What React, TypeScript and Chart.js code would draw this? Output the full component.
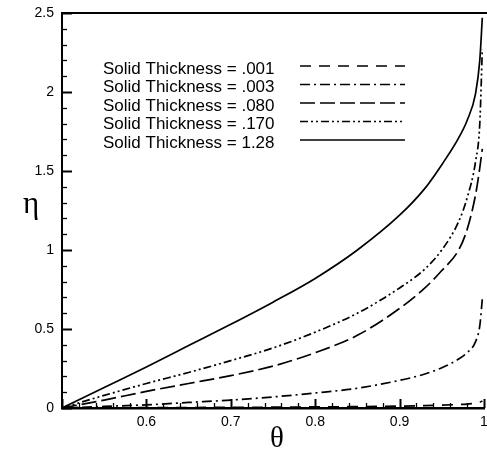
import React, { useEffect, useRef } from "react";
import { Chart, registerables } from "chart.js";

Chart.register(...registerables);

// θ sample positions shared by all curves
const theta = [0.5, 0.55, 0.6, 0.65, 0.7, 0.75, 0.8, 0.85, 0.9, 0.93, 0.95, 0.97, 0.98, 0.99, 0.995, 0.998];

// η for each solid thickness
const eta001 = [0, 0.001, 0.002, 0.003, 0.004, 0.005, 0.007, 0.009, 0.012, 0.015, 0.018, 0.022, 0.025, 0.03, 0.036, 0.045];
const eta003 = [0, 0.01, 0.02, 0.035, 0.05, 0.07, 0.095, 0.125, 0.175, 0.215, 0.255, 0.31, 0.35, 0.42, 0.52, 0.69];
const eta080 = [0, 0.05, 0.105, 0.155, 0.205, 0.265, 0.35, 0.46, 0.63, 0.76, 0.87, 1.0, 1.13, 1.35, 1.52, 1.64];
const eta170 = [0, 0.08, 0.155, 0.225, 0.3, 0.38, 0.48, 0.6, 0.76, 0.88, 1.0, 1.18, 1.33, 1.56, 1.8, 2.27];
const eta128 = [0, 0.13, 0.26, 0.395, 0.53, 0.67, 0.82, 1.0, 1.22, 1.39, 1.54, 1.71, 1.82, 1.99, 2.2, 2.47];

const seriesLabels = [
  "Solid Thickness = .001",
  "Solid Thickness = .003",
  "Solid Thickness = .080",
  "Solid Thickness = .170",
  "Solid Thickness = 1.28",
];
const seriesValues = [eta001, eta003, eta080, eta170, eta128];

const xTitle = "θ";
const yTitle = "η";

const dashStyles = [[11, 8], [10, 4, 2, 4], [15, 5], [8, 3, 2, 3, 2, 3], []];

const isMajor = (v: number, step: number) => Math.abs(v / step - Math.round(v / step)) < 1e-6;

const decorPlugin = {
  id: "decor",
  afterDraw(chart: any) {
    const ctx = chart.ctx;
    const area = chart.chartArea;
    const xs = chart.scales.x;
    const ys = chart.scales.y;
    ctx.save();
    ctx.strokeStyle = "#000";
    ctx.setLineDash([]);
    // inward ticks
    xs.ticks.forEach((t: any) => {
      const px = Math.round(xs.getPixelForValue(t.value)) + 0.5;
      const major = isMajor(t.value, 0.1);
      ctx.lineWidth = major ? 2 : 1.3;
      const len = major ? 9 : 5;
      ctx.beginPath();
      ctx.moveTo(px, area.bottom);
      ctx.lineTo(px, area.bottom - len);
      ctx.stroke();
    });
    ys.ticks.forEach((t: any) => {
      const py = Math.round(ys.getPixelForValue(t.value)) + 0.5;
      const major = isMajor(t.value, 0.5);
      const len = major ? 10 : 5;
      ctx.lineWidth = major ? 2 : 1.3;
      ctx.beginPath();
      ctx.moveTo(area.left, py);
      ctx.lineTo(area.left + len, py);
      ctx.stroke();
    });
    // top frame line
    ctx.lineWidth = 2;
    ctx.beginPath();
    ctx.moveTo(area.left, area.top);
    ctx.lineTo(chart.width, area.top);
    ctx.stroke();

    // legend
    ctx.font = "17px 'Liberation Sans', Arial, sans-serif";
    ctx.fillStyle = "#000";
    ctx.textBaseline = "middle";
    ctx.textAlign = "left";
    chart.data.datasets.forEach((ds: any, i: number) => {
      const y = 66 + i * 18.5;
      ctx.fillText(ds.label, 103, y + 3);
      ctx.lineWidth = 1.7;
      ctx.setLineDash(ds.borderDash || []);
      ctx.beginPath();
      ctx.moveTo(300, y);
      ctx.lineTo(405, y);
      ctx.stroke();
    });
    ctx.setLineDash([]);

    // axis titles (upright)
    ctx.font = "31px 'Liberation Serif', 'Times New Roman', serif";
    ctx.textAlign = "center";
    ctx.textBaseline = "middle";
    ctx.fillText(yTitle, 31, 205);
    ctx.font = "29px 'Liberation Serif', 'Times New Roman', serif";
    ctx.fillText(xTitle, 277, 439);
    ctx.restore();
  },
};

export default function App() {
  const ref = useRef<HTMLCanvasElement | null>(null);
  useEffect(() => {
    if (!ref.current) return;
    const chart = new Chart(ref.current, {
      type: "line",
      data: {
        datasets: seriesValues.map((vals, i) => ({
          label: seriesLabels[i],
          data: theta.map((t, j) => ({ x: t, y: vals[j] })),
          borderColor: "#000",
          borderWidth: 1.7,
          borderDash: dashStyles[i],
          pointRadius: 0,
          fill: false,
          cubicInterpolationMode: "monotone" as const,
        })),
      },
      options: {
        animation: false,
        responsive: false,
        devicePixelRatio: 1,
        layout: { padding: { left: 0, right: 3, top: 13, bottom: 0 } },
        plugins: { legend: { display: false }, tooltip: { enabled: false } },
        scales: {
          x: {
            type: "linear",
            min: 0.5,
            max: 1,
            afterFit: (s: any) => {
              s.height = 44;
              s.paddingLeft = 0;
              s.paddingRight = 0;
            },
            grid: { display: false, drawTicks: false },
            border: { display: true, color: "#000", width: 2.5 },
            ticks: {
              stepSize: 0.02,
              autoSkip: false,
              maxRotation: 0,
              padding: 6,
              color: "#000",
              font: { family: "'Liberation Sans', Arial, sans-serif", size: 14 },
              callback: (v: any) => {
                const n = Number(v);
                if (n <= 0.5 + 1e-9 || !isMajor(n, 0.1)) return "";
                return String(Math.round(n * 10) / 10);
              },
            },
          },
          y: {
            type: "linear",
            min: 0,
            max: 2.5,
            afterFit: (s: any) => {
              s.width = 62;
              s.paddingTop = 0;
              s.paddingBottom = 0;
            },
            grid: { display: false, drawTicks: false },
            border: { display: true, color: "#000", width: 2 },
            ticks: {
              stepSize: 0.1,
              autoSkip: false,
              padding: 8,
              color: "#000",
              font: { family: "'Liberation Sans', Arial, sans-serif", size: 14 },
              callback: (v: any) => {
                const n = Number(v);
                if (!isMajor(n, 0.5)) return "";
                return String(Math.round(n * 10) / 10);
              },
            },
          },
        },
      },
      plugins: [decorPlugin],
    });
    return () => chart.destroy();
  }, []);
  return (
    <div style={{ position: "absolute", left: 0, top: 0, width: 487, height: 452, background: "#fff" }}>
      <canvas ref={ref} width={487} height={452} />
    </div>
  );
}
